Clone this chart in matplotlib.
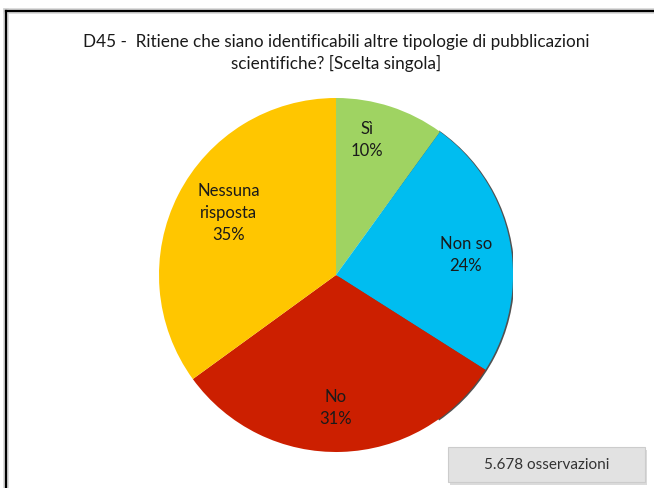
import matplotlib
matplotlib.use("Agg")
import matplotlib.pyplot as plt
from matplotlib.patches import Rectangle, Wedge
from matplotlib.lines import Line2D

# Survey answers (share of respondents, %)
categories = ["Sì", "Non so", "No", "Nessuna\nrisposta"]
values = [10, 24, 31, 35]
colors = ["#9fd362", "#00bdf0", "#cc1f00", "#ffc600"]
title = "D45 -  Ritiene che siano identificabili altre tipologie di pubblicazioni\nscientifiche? [Scelta singola]"
note = "5.678 osservazioni"

# label anchor points inside each slice (axes data units, radius = 1)
label_pos = [(0.175, 0.768), (0.734, 0.119), (0.0, -0.746), (-0.605, 0.356)]

W, H = 654, 489
fig = plt.figure(figsize=(W / 100, H / 100), dpi=100)
fig.patch.set_facecolor("white")
FONT = ["Lato", "DejaVu Sans"]

# outer frame (open to the right and bottom)
fx, fy = 6 / W, 1 - 12 / H
for col, lw in (("#d4d4d4", 4.0), ("black", 1.6)):
    fig.add_artist(Line2D([fx, fx], [-0.05, fy], transform=fig.transFigure,
                          color=col, lw=lw, solid_capstyle="projecting"))
    fig.add_artist(Line2D([fx, 1.05], [fy, fy], transform=fig.transFigure,
                          color=col, lw=lw, solid_capstyle="projecting"))

fig.text(336 / W, 1 - 53 / H, title, ha="center", va="center",
         fontsize=12.3, family=FONT, color="#1a1a1a", linespacing=1.3)

# pie
cx, cy, r = 336, 276, 177
ax = fig.add_axes([(cx - r) / W, 1 - (cy + r) / H, 2 * r / W, 2 * r / H])
ax.set_xlim(-1, 1)
ax.set_ylim(-1, 1)
ax.set_aspect("equal")
ax.axis("off")

# faint shadow on the right rim
ax.add_patch(Wedge((0.009, -0.003), 1.0, -55, 55, facecolor="#333333",
                   edgecolor="none", zorder=0, alpha=0.85))
ax.pie(values, colors=colors, startangle=90, counterclock=False, radius=1.0,
       wedgeprops=dict(linewidth=0), center=(0, 0), frame=False)
ax.set_xlim(-1, 1)
ax.set_ylim(-1, 1)

for name, v, (lx, ly) in zip(categories, values, label_pos):
    ax.text(lx, ly, f"{name}\n{v}%", ha="center", va="center",
            fontsize=12, family=FONT, color="#1a1a1a", linespacing=1.45)

# observations box
bx0, by0, bx1, by1 = 448, 448, 645, 483
fig.add_artist(Rectangle((bx0 / W + 2 / W, 1 - (by1 + 3) / H), (bx1 - bx0) / W,
                         (by1 - by0) / H, transform=fig.transFigure,
                         facecolor="#c4c4c4", edgecolor="none", alpha=0.6))
fig.add_artist(Rectangle((bx0 / W, 1 - by1 / H), (bx1 - bx0) / W,
                         (by1 - by0) / H, transform=fig.transFigure,
                         facecolor="#e2e2e2", edgecolor="#cccccc", lw=0.8))
fig.text((bx0 + bx1) / 2 / W, 1 - (by0 + by1) / 2 / H, note, ha="center",
         va="center", fontsize=11, family=FONT, color="#333333")

fig.savefig("out.png", dpi=100)
